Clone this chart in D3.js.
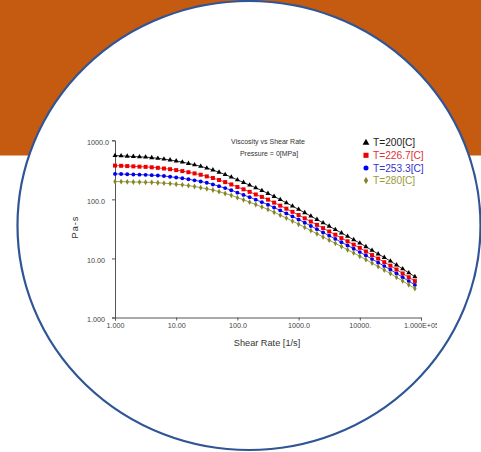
<!DOCTYPE html>
<html>
  <head>
    <script src="https://cdn.jsdelivr.net/npm/d3@7"></script>
    <style>
      body { margin: 0; background: #fff; }
      text { font-family: "Liberation Sans", Arial, sans-serif; }
    </style>
  </head>
  <body>
    <svg id="chart" width="481" height="452"></svg>
    <script>
      // shear rate [1/s]
      var shearRate = [1, 1.259, 1.585, 1.995, 2.512, 3.162, 3.981, 5.012, 6.31, 7.943,
        10, 12.59, 15.85, 19.95, 25.12, 31.62, 39.81, 50.12, 63.1, 79.43,
        100, 125.9, 158.5, 199.5, 251.2, 316.2, 398.1, 501.2, 631, 794.3,
        1000, 1259, 1585, 1995, 2512, 3162, 3981, 5012, 6310, 7943,
        10000, 12590, 15850, 19950, 25120, 31620, 39810, 50120, 63100, 79430];

      // viscosity [Pa-s] per temperature
      var t200 = [552, 546, 538, 532, 525, 519, 508, 496, 481, 464,
        447, 428, 406, 385, 362, 339, 314, 288, 263, 238,
        214, 193, 174, 157, 141, 126, 112, 98.9, 87.3, 76.9,
        67.6, 59.3, 52.0, 45.6, 40.0, 35.1, 30.8, 27.0, 23.7, 20.7,
        18.2, 15.8, 13.7, 11.9, 10.4, 9.02, 7.74, 6.65, 5.71, 4.91];
      var t2267 = [373, 370, 366, 362, 358, 355, 349, 342, 333, 324,
        313, 301, 288, 275, 261, 245, 230, 213, 196, 179,
        162, 148, 134, 121, 110, 98.9, 88.1, 78.3, 69.5, 61.5,
        54.3, 47.8, 42.1, 37.0, 32.6, 28.6, 25.2, 22.1, 19.5, 17.1,
        15.1, 13.1, 11.4, 9.93, 8.65, 7.53, 6.49, 5.57, 4.80, 4.13];
      var t2533 = [270, 268, 266, 264, 262, 260, 257, 253, 248, 242,
        234, 228, 219, 210, 201, 191, 179, 167, 155, 143,
        130, 119, 109, 98.9, 89.7, 81.3, 72.8, 65.0, 57.9, 51.5,
        45.7, 40.3, 35.5, 31.3, 27.5, 24.3, 21.4, 18.8, 16.6, 14.6,
        12.8, 11.2, 9.75, 8.49, 7.41, 6.46, 5.56, 4.79, 4.13, 3.56];
      var t280 = [200, 200, 198, 197, 196, 195, 194, 191, 188, 185,
        180, 176, 171, 165, 158, 151, 144, 135, 126, 117,
        107, 98.2, 89.7, 81.8, 74.5, 67.6, 60.5, 54.1, 48.2, 42.9,
        38.0, 33.6, 29.6, 26.2, 23.1, 20.4, 18.0, 15.9, 14.0, 12.4,
        10.9, 9.53, 8.34, 7.28, 6.37, 5.56, 4.80, 4.15, 3.58, 3.10];

      var seriesNames = ["T=200[C]", "T=226.7[C]", "T=253.3[C]", "T=280[C]"];
      var xTicks = [1, 10, 100, 1000, 10000, 100000];
      var xTickLabels = ["1.000", "10.00", "100.0", "1000.0", "10000.", "1.000E+05"];
      var yTicks = [1, 10, 100, 1000];
      var yTickLabels = ["1.000", "10.00", "100.0", "1000.0"];

      var series = [
        {name: seriesNames[0], values: t200, color: "#000000", text: "#222222", symbol: d3.symbolTriangle, size: 11, legSize: 20},
        {name: seriesNames[1], values: t2267, color: "#ee0000", text: "#dd3333", symbol: d3.symbolSquare, size: 16, legSize: 26},
        {name: seriesNames[2], values: t2533, color: "#0000ee", text: "#3535c8", symbol: d3.symbolCircle, size: 12, legSize: 20},
        {name: seriesNames[3], values: t280, color: "#858525", text: "#9a9a3a", symbol: d3.symbolDiamond, size: 10, legSize: 16}
      ];

      var svg = d3.select("#chart");

      // background: orange band and the round frame
      svg.append("rect").attr("x", 0).attr("y", 0).attr("width", 481).attr("height", 155.5)
        .attr("fill", "#c55a11");
      svg.append("ellipse").attr("cx", 249).attr("cy", 225.5).attr("rx", 231.5).attr("ry", 224.5)
        .attr("fill", "#ffffff").attr("stroke", "#2f5597").attr("stroke-width", 2.2);

      var x = d3.scaleLog().domain([1, 100000]).range([115, 421]);
      var y = d3.scaleLog().domain([1, 1000]).range([317.5, 140.3]);

      // last x label is cut off on the right in the original
      svg.append("defs").append("clipPath").attr("id", "clipX")
        .append("rect").attr("x", 0).attr("y", -20).attr("width", 437).attr("height", 60);

      var xAxis = svg.append("g")
        .attr("transform", "translate(0," + y(1) + ")")
        .attr("clip-path", "url(#clipX)")
        .call(d3.axisBottom(x).tickValues(xTicks).tickSizeOuter(0).tickSize(3)
          .tickFormat((d, i) => xTickLabels[i]));
      xAxis.selectAll("text").attr("dy", "0.45em").attr("y", 7)
        .attr("font-size", 7.2).attr("fill", "#444").attr("font-family", null);

      var yAxis = svg.append("g")
        .attr("transform", "translate(" + x(1) + ",0)")
        .call(d3.axisLeft(y).tickValues(yTicks).tickSizeOuter(0).tickSize(3)
          .tickFormat((d, i) => yTickLabels[i]));
      yAxis.selectAll("text").attr("x", -28).attr("text-anchor", "start")
        .attr("dy", "0.55em").attr("font-size", 7.2).attr("fill", "#444").attr("font-family", null);

      svg.selectAll(".domain, .tick line").attr("stroke", "#555");

      var line = d3.line().x((d, i) => x(shearRate[i])).y(d => y(d));

      var g = svg.append("g");
      series.forEach(function(s) {
        g.append("path").datum(s.values)
          .attr("d", line).attr("fill", "none")
          .attr("stroke", s.color).attr("stroke-width", 0.8);
        g.selectAll(null).data(s.values).enter().append("path")
          .attr("d", d3.symbol().type(s.symbol).size(s.size))
          .attr("transform", (d, i) => "translate(" + x(shearRate[i]) + "," + y(d) + ")")
          .attr("fill", s.color);
      });

      // title
      svg.append("text").attr("x", 268).attr("y", 144).attr("text-anchor", "middle")
        .attr("font-size", 7).attr("fill", "#333").text("Viscosity vs Shear Rate");
      svg.append("text").attr("x", 269).attr("y", 155.5).attr("text-anchor", "middle")
        .attr("font-size", 7).attr("fill", "#333").text("Pressure = 0[MPa]");

      // legend
      var leg = svg.append("g");
      series.forEach(function(s, i) {
        var ly = 142.7 + i * 12.6;
        leg.append("path")
          .attr("d", d3.symbol().type(s.symbol).size(s.legSize))
          .attr("transform", "translate(366," + ly + ")")
          .attr("fill", s.color);
        leg.append("text").attr("x", 373).attr("y", ly).attr("dy", "0.36em")
          .attr("font-size", 10.2).attr("fill", s.text).text(s.name);
      });

      // axis titles
      svg.append("text").attr("x", 267).attr("y", 345.5).attr("text-anchor", "middle")
        .attr("font-size", 9.2).attr("fill", "#333").text("Shear Rate [1/s]");
      svg.append("text").attr("transform", "translate(78,227) rotate(-90)")
        .attr("text-anchor", "middle").attr("font-size", 9.2).attr("fill", "#333")
        .attr("letter-spacing", 1).text("Pa-s");
    </script>
  </body>
</html>
